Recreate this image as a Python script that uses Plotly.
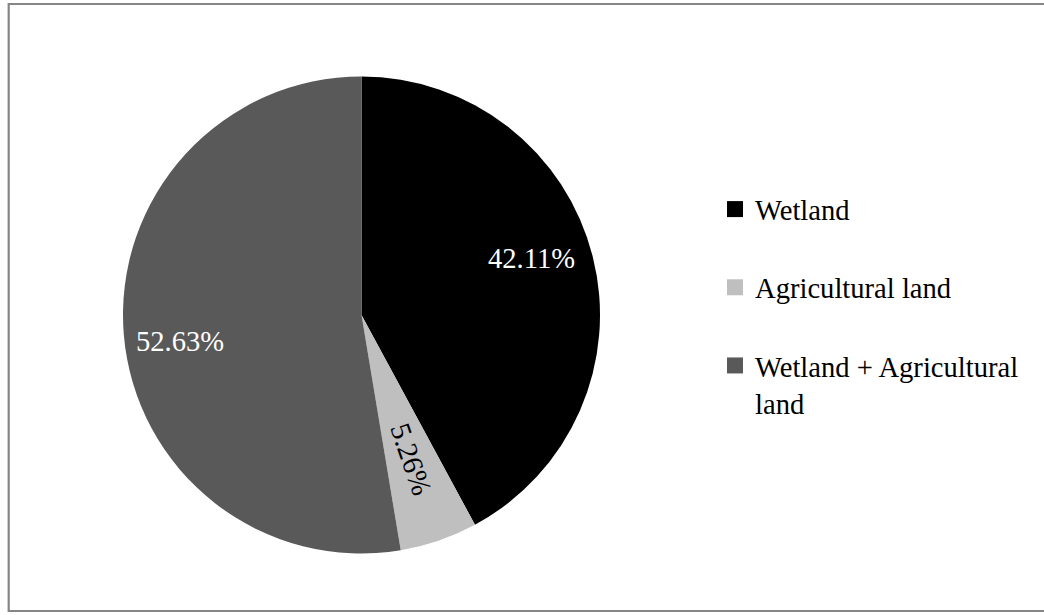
import math
import plotly.graph_objects as go

labels = ["Wetland", "Agricultural land", "Wetland + Agricultural land"]
legend_text = ["Wetland", "Agricultural land", "Wetland + Agricultural<br>land"]
values = [42.11, 5.26, 52.63]
colors = ["#000000", "#BFBFBF", "#595959"]
text_colors = ["#FFFFFF", "#000000", "#FFFFFF"]
label_radius = [0.75, 0.64, 0.77]      # fraction of pie radius for each percent label
label_nudge = [-4.3, 0.0, -3.5]        # small angular nudge (deg) of each label from slice middle
label_radial = [False, True, False]    # rotate label along the slice's radius

W, H = 1044, 615
cx, cy, r = 361.5, 315, 238.5
FONT = "Liberation Serif"
FS = 28.6

fig = go.Figure()
fig.add_trace(go.Pie(
    labels=labels, values=values, sort=False, direction="clockwise", rotation=0,
    marker=dict(colors=colors, line=dict(width=0)),
    textinfo="none", showlegend=False, hoverinfo="label+percent",
    domain=dict(x=[(cx - r) / W, (cx + r) / W], y=[(H - cy - r) / H, (H - cy + r) / H]),
))
for i, (lt, c) in enumerate(zip(legend_text, colors)):
    fig.add_trace(go.Scatter(
        x=[None], y=[None], mode="markers", name=lt, legendgroup=str(i),
        marker=dict(symbol="square", size=16, color=c), hoverinfo="skip",
    ))

total = sum(values)
annotations = []
cum = 0.0
for v, tc, f, nd, rad in zip(values, text_colors, label_radius, label_nudge, label_radial):
    theta = 360.0 * (cum + v / 2) / total
    cum += v
    t = math.radians(theta + nd)
    px = cx + f * r * math.sin(t)
    py = cy - f * r * math.cos(t)
    annotations.append(dict(
        x=px / W, y=(H - py) / H, xref="paper", yref="paper",
        text=f"{100 * v / total:.2f}%", showarrow=False,
        textangle=(theta - 90) if rad else 0,
        font=dict(family=FONT, size=FS, color=tc),
        xanchor="center", yanchor="middle",
    ))

fig.update_layout(
    width=W, height=H, margin=dict(l=0, r=0, t=0, b=0),
    paper_bgcolor="white", plot_bgcolor="white",
    xaxis=dict(visible=False), yaxis=dict(visible=False),
    font=dict(family=FONT, size=FS, color="black"),
    legend=dict(x=715 / W, y=(H - 184) / H, xanchor="left", yanchor="top",
                tracegroupgap=38, valign="top", font=dict(size=FS),
                itemclick=False, itemdoubleclick=False),
    annotations=annotations,
    shapes=[dict(type="rect", xref="paper", yref="paper",
                 x0=8.7 / W, x1=1.05, y0=(H - 611) / H, y1=(H - 4) / H,
                 line=dict(color="#868686", width=2.2), fillcolor="rgba(0,0,0,0)", layer="below")],
)
fig.write_html("out.html", config={"displayModeBar": False},
               post_script="document.body.style.margin='0';document.body.style.overflow='hidden';")
